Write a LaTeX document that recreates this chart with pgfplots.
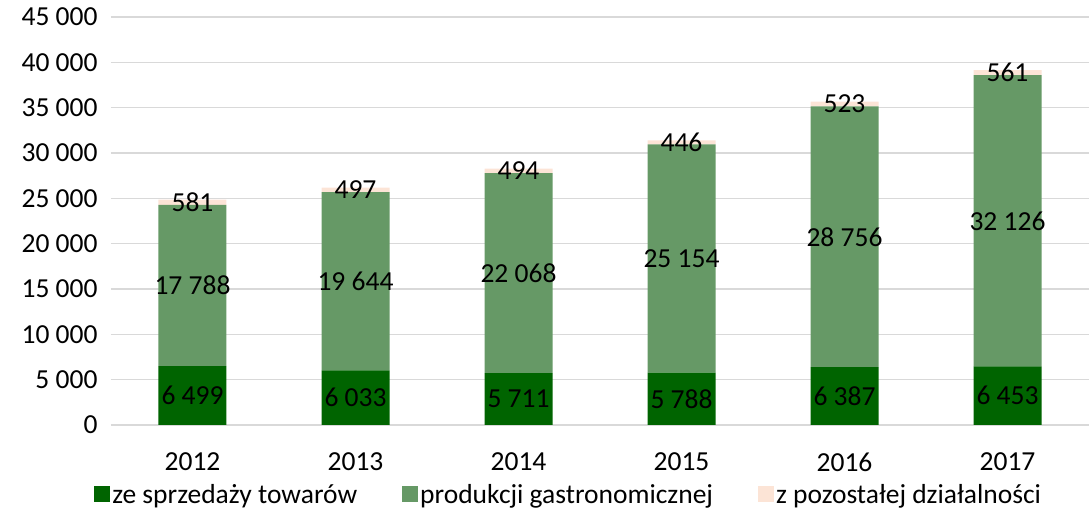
\documentclass[border=0pt]{standalone}
\usepackage{pgfplots}
\pgfplotsset{compat=1.18}
\usepackage{pgfplotstable}
\usepackage{fontspec}
\setmainfont{Carlito}
\definecolor{c1}{RGB}{0,100,0}
\definecolor{c2}{RGB}{102,153,102}
\definecolor{c3}{RGB}{252,228,214}
\definecolor{gridc}{RGB}{217,217,217}
\pgfplotstableread{
x a b c
0 6499 17788 581
1 6033 19644 497
2 5711 22068 494
3 5788 25154 446
4 6387 28756 523
5 6453 32126 561
}\datatable
\newcommand{\bigf}{\fontsize{27.5}{33}\selectfont}
\begin{document}
\begin{tikzpicture}
\useasboundingbox (-111pt,-85pt) rectangle (978pt,425pt);
\begin{axis}[
  scale only axis, width=978pt, height=408pt,
  ybar stacked, bar width=68pt,
  xmin=-0.5, xmax=5.5,
  ymin=0, ymax=45000,
  ytick={0,5000,...,45000},
  scaled y ticks=false,
  xtick=data, xticklabels={2012,2013,2014,2015,2016,2017},
  /pgf/number format/.cd, assume math mode=true, 1000 sep={\ }, /pgfplots/.cd,
  ymajorgrids, grid style={gridc, line width=1.3pt},
  axis x line*=bottom, axis y line*=left,
  x axis line style={gridc, line width=1.3pt, -},
  y axis line style={draw=none},
  major tick length=0pt,
  tick label style={font=\bigf, text=black},
  yticklabel style={xshift=-10pt},
  xticklabel style={yshift=-24pt},
  nodes near coords,
  point meta=explicit,
  every node near coord/.append style={anchor=center, font=\bigf, text=black},
  legend style={at={(0.468,-0.135)}, anchor=north, draw=none, fill=none, legend columns=3, font=\bigf,
    /tikz/every even column/.append style={column sep=43pt}},
  legend image code/.code={\fill[#1] (0pt,-7pt) rectangle (16pt,9pt);},
]
\addplot[fill=c1, draw=none] table[x=x, y=a, meta=a] {\datatable};
\addplot[fill=c2, draw=none] table[x=x, y=b, meta=b] {\datatable};
\addplot[fill=c3, draw=none] table[x=x, y=c, meta=c] {\datatable};
\legend{ze sprzedaży towarów, produkcji gastronomicznej, z pozostałej działalności}
\end{axis}
\end{tikzpicture}
\end{document}
